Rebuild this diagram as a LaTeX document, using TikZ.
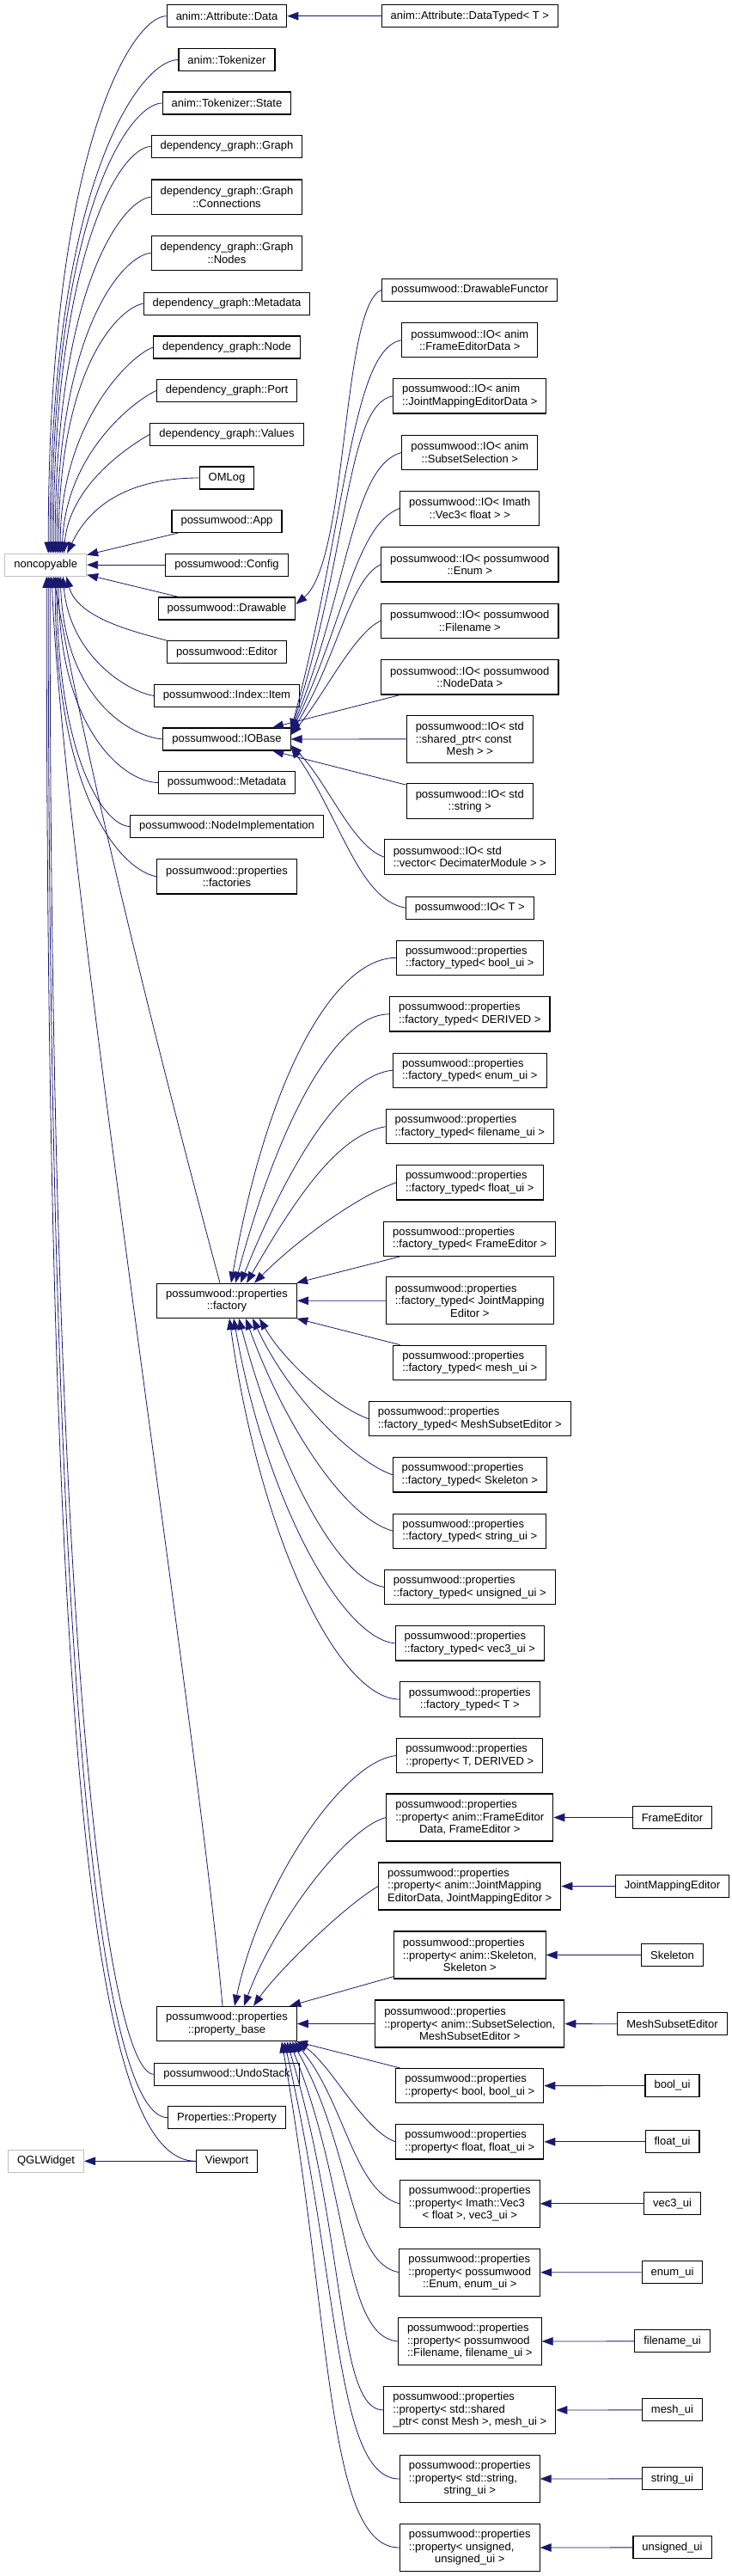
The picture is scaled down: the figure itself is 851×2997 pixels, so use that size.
\documentclass[tikz,border=0pt]{standalone}
\usepackage{fontspec}
\setmainfont{Liberation Sans}
\usetikzlibrary{arrows.meta}
\definecolor{edgeblue}{HTML}{191970}
\definecolor{extgray}{HTML}{BFBFBF}

\begin{document}
\begin{tikzpicture}[x=1pt,y=1pt,
  cls/.style={draw=black, line width=1.1pt, fill=white, align=left,
    inner xsep=10.5pt, inner ysep=0pt, minimum height=26pt,
    font=\fontsize{13}{14.5}\selectfont},
  cls2/.style={cls, minimum height=40.3pt},
  cls3/.style={cls, minimum height=55pt},
  ext/.style={cls, draw=extgray},
  inh/.style={draw=edgeblue, line width=0.8pt, -{Triangle[length=13pt,width=9.5pt]}}]
\useasboundingbox (0,0) rectangle (851,-2997);

% base classes outside the project
\node[ext] (nc) at (53.2,-657.2) {noncopyable};
\node[ext] (qgl) at (53.5,-2514.3) {QGLWidget};

% direct children of noncopyable
\node[cls] (data) at (264,-18.7) {anim::Attribute::Data};
\node[cls] (tok) at (264,-69.5) {anim::Tokenizer};
\node[cls] (tokstate) at (264,-120) {anim::Tokenizer::State};
\node[cls] (graph) at (264,-170.5) {dependency\_graph::Graph};
\node[cls2] (graphconn) at (264,-229.2) {dependency\_graph::Graph\\\hfil ::Connections};
\node[cls2] (graphnodes) at (264,-294.3) {dependency\_graph::Graph\\\hfil ::Nodes};
\node[cls] (graphmeta) at (264,-353.2) {dependency\_graph::Metadata};
\node[cls] (graphnode) at (264,-404) {dependency\_graph::Node};
\node[cls] (graphport) at (264,-454.5) {dependency\_graph::Port};
\node[cls] (graphvalues) at (264,-505.3) {dependency\_graph::Values};
\node[cls] (omlog) at (264,-556) {OMLog};
\node[cls] (app) at (264,-606.3) {possumwood::App};
\node[cls] (config) at (264,-657.2) {possumwood::Config};
\node[cls] (drawable) at (264,-708) {possumwood::Drawable};
\node[cls] (editor) at (264,-758.7) {possumwood::Editor};
\node[cls] (item) at (264,-809.5) {possumwood::Index::Item};
\node[cls] (iobase) at (264,-860) {possumwood::IOBase};
\node[cls] (meta) at (264,-910.5) {possumwood::Metadata};
\node[cls] (nodeimpl) at (264,-961.5) {possumwood::NodeImplementation};
\node[cls2] (factories) at (264,-1019.8) {possumwood::properties\\\hfil ::factories};
\node[cls2] (factory) at (264,-1513.3) {possumwood::properties\\\hfil ::factory};
\node[cls2] (propbase) at (264,-2354.5) {possumwood::properties\\\hfil ::property\_base};
\node[cls] (undo) at (264,-2413.3) {possumwood::UndoStack};
\node[cls] (property) at (264,-2463.7) {Properties::Property};
\node[cls] (viewport) at (264,-2514.3) {Viewport};

% third column
\node[cls] (typed) at (546.8,-18.7) {anim::Attribute::DataTyped< T >};
\node[cls] (functor) at (546.8,-337.2) {possumwood::DrawableFunctor};
\node[cls2] (ioframe) at (546.8,-395.7) {possumwood::IO< anim\\\hfil ::FrameEditorData >};
\node[cls2] (iojoint) at (546.8,-460.8) {possumwood::IO< anim\\\hfil ::JointMappingEditorData >};
\node[cls2] (iosubset) at (546.8,-526.5) {possumwood::IO< anim\\\hfil ::SubsetSelection >};
\node[cls2] (iovec) at (546.8,-591.5) {possumwood::IO< Imath\\\hfil ::Vec3< float > >};
\node[cls2] (ioenum) at (546.8,-656.8) {possumwood::IO< possumwood\\\hfil ::Enum >};
\node[cls2] (iofile) at (546.8,-722.3) {possumwood::IO< possumwood\\\hfil ::Filename >};
\node[cls2] (ionode) at (546.8,-787.8) {possumwood::IO< possumwood\\\hfil ::NodeData >};
\node[cls3] (iomesh) at (546.8,-859.8) {possumwood::IO< std\\::shared\_ptr< const\\\hfil Mesh > >};
\node[cls2] (iostring) at (546.8,-932) {possumwood::IO< std\\\hfil ::string >};
\node[cls2] (iovector) at (546.8,-997) {possumwood::IO< std\\\hfil ::vector< DecimaterModule > >};
\node[cls] (iot) at (546.8,-1056.2) {possumwood::IO< T >};
\node[cls2] (ftbool) at (546.8,-1114.3) {possumwood::properties\\\hfil ::factory\_typed< bool\_ui >};
\node[cls2] (ftderived) at (546.8,-1179.8) {possumwood::properties\\\hfil ::factory\_typed< DERIVED >};
\node[cls2] (ftenum) at (546.8,-1245.2) {possumwood::properties\\\hfil ::factory\_typed< enum\_ui >};
\node[cls2] (ftfile) at (546.8,-1310.7) {possumwood::properties\\\hfil ::factory\_typed< filename\_ui >};
\node[cls2] (ftfloat) at (546.8,-1375.8) {possumwood::properties\\\hfil ::factory\_typed< float\_ui >};
\node[cls2] (ftframe) at (546.8,-1441.2) {possumwood::properties\\\hfil ::factory\_typed< FrameEditor >};
\node[cls3] (ftjoint) at (546.8,-1513.2) {possumwood::properties\\::factory\_typed< JointMapping\\\hfil Editor >};
\node[cls2] (ftmesh) at (546.8,-1585.3) {possumwood::properties\\\hfil ::factory\_typed< mesh\_ui >};
\node[cls2] (ftsubset) at (546.8,-1650.7) {possumwood::properties\\\hfil ::factory\_typed< MeshSubsetEditor >};
\node[cls2] (ftskel) at (546.8,-1715.8) {possumwood::properties\\\hfil ::factory\_typed< Skeleton >};
\node[cls2] (ftstring) at (546.8,-1781.2) {possumwood::properties\\\hfil ::factory\_typed< string\_ui >};
\node[cls2] (ftunsigned) at (546.8,-1846.5) {possumwood::properties\\\hfil ::factory\_typed< unsigned\_ui >};
\node[cls2] (ftvec) at (546.8,-1911.8) {possumwood::properties\\\hfil ::factory\_typed< vec3\_ui >};
\node[cls2] (ftt) at (546.8,-1977) {possumwood::properties\\\hfil ::factory\_typed< T >};
\node[cls2] (pderived) at (546.8,-2042.5) {possumwood::properties\\\hfil ::property< T, DERIVED >};
\node[cls3] (pframe) at (546.8,-2114.5) {possumwood::properties\\::property< anim::FrameEditor\\\hfil Data, FrameEditor >};
\node[cls3] (pjoint) at (546.8,-2194.5) {possumwood::properties\\::property< anim::JointMapping\\\hfil EditorData, JointMappingEditor >};
\node[cls3] (pskel) at (546.8,-2274.5) {possumwood::properties\\::property< anim::Skeleton,\\\hfil Skeleton >};
\node[cls3] (psubset) at (546.8,-2354.5) {possumwood::properties\\::property< anim::SubsetSelection,\\\hfil MeshSubsetEditor >};
\node[cls2] (pbool) at (546.8,-2426.7) {possumwood::properties\\\hfil ::property< bool, bool\_ui >};
\node[cls2] (pfloat) at (546.8,-2491.8) {possumwood::properties\\\hfil ::property< float, float\_ui >};
\node[cls3] (pvec) at (546.8,-2563.8) {possumwood::properties\\::property< Imath::Vec3\\\hfil < float >, vec3\_ui >};
\node[cls3] (penum) at (546.8,-2643.7) {possumwood::properties\\::property< possumwood\\\hfil ::Enum, enum\_ui >};
\node[cls3] (pfile) at (546.8,-2724) {possumwood::properties\\::property< possumwood\\\hfil ::Filename, filename\_ui >};
\node[cls3] (pmesh) at (546.8,-2804) {possumwood::properties\\::property< std::shared\\\hfil \_ptr< const Mesh >, mesh\_ui >};
\node[cls3] (pstring) at (546.8,-2884) {possumwood::properties\\::property< std::string,\\\hfil string\_ui >};
\node[cls3] (punsigned) at (546.8,-2964) {possumwood::properties\\::property< unsigned,\\\hfil unsigned\_ui >};

% leaf classes
\node[cls] (frameed) at (782.5,-2114.5) {FrameEditor};
\node[cls] (jointed) at (782.5,-2194.5) {JointMappingEditor};
\node[cls] (skel) at (782.5,-2274.5) {Skeleton};
\node[cls] (subseted) at (782.5,-2354.7) {MeshSubsetEditor};
\node[cls] (boolui) at (782.5,-2426.5) {bool\_ui};
\node[cls] (floatui) at (782.5,-2491.8) {float\_ui};
\node[cls] (vecui) at (782.5,-2563.8) {vec3\_ui};
\node[cls] (enumui) at (782.5,-2643.8) {enum\_ui};
\node[cls] (fileui) at (782.5,-2723.8) {filename\_ui};
\node[cls] (meshui) at (782.5,-2803.8) {mesh\_ui};
\node[cls] (stringui) at (782.5,-2883.8) {string\_ui};
\node[cls] (unsignedui) at (782.5,-2963.8) {unsigned\_ui};

% into noncopyable, from above
\draw[inh] (data.west) to[out=180,in=90,out distance=40pt,in distance=470pt] ([xshift=3pt]nc.north);
\draw[inh] (tok.west) to[out=180,in=90,out distance=45pt,in distance=430pt] ([xshift=5pt]nc.north);
\draw[inh] (tokstate.west) to[out=180,in=90,out distance=38pt,in distance=395pt] ([xshift=7pt]nc.north);
\draw[inh] (graph.west) to[out=180,in=90,out distance=34pt,in distance=355pt] ([xshift=9pt]nc.north);
\draw[inh] (graphconn.west) to[out=185,in=90,out distance=33pt,in distance=310pt] ([xshift=11pt]nc.north);
\draw[inh] (graphnodes.west) to[out=185,in=90,out distance=32pt,in distance=262pt] ([xshift=13pt]nc.north);
\draw[inh] (graphmeta.west) to[out=190,in=90,out distance=28pt,in distance=218pt] ([xshift=15pt]nc.north);
\draw[inh] (graphnode.west) to[out=200,in=90,out distance=30pt,in distance=150pt] ([xshift=17pt]nc.north);
\draw[inh] (graphport.west) to[out=205,in=88,out distance=30pt,in distance=115pt] ([xshift=19pt]nc.north);
\draw[inh] (graphvalues.west) to[out=210,in=85,out distance=28pt,in distance=80pt] ([xshift=21pt]nc.north);
\draw[inh] (omlog.west) to[out=180,in=65,out distance=70pt,in distance=70pt] ([xshift=25pt]nc.north);
\draw[inh] (app) -- (nc);
\draw[inh] (config) -- (nc);
\draw[inh] (drawable) -- (nc);

% into noncopyable, from below
\draw[inh] (editor.north west) to[out=165,in=-75,out distance=40pt,in distance=50pt] ([xshift=24pt]nc.south);
\draw[inh] (item.west) to[out=170,in=-85,out distance=35pt,in distance=90pt] ([xshift=20pt]nc.south);
\draw[inh] (iobase.west) to[out=175,in=-88,out distance=40pt,in distance=140pt] ([xshift=17pt]nc.south);
\draw[inh] (meta.west) to[out=180,in=-90,out distance=38pt,in distance=180pt] ([xshift=15pt]nc.south);
\draw[inh] (nodeimpl.west) to[out=180,in=-90,out distance=28pt,in distance=215pt] ([xshift=13pt]nc.south);
\draw[inh] (factories.west) to[out=170,in=-90,out distance=40pt,in distance=260pt] ([xshift=11pt]nc.south);
\draw[inh] ([xshift=-8pt]factory.north) .. controls +(-52,193) and +(43,-246) .. ([xshift=9pt]nc.south);
\draw[inh] ([xshift=-5pt]propbase.north) .. controls +(-29,329) and +(12,-330) .. ([xshift=7pt]nc.south);
\draw[inh] (undo.west) .. controls +(-50,0) and +(0,-1300) .. ([xshift=5pt]nc.south);
\draw[inh] (property.west) .. controls +(-70,0) and +(0,-1380) .. ([xshift=3pt]nc.south);
\draw[inh] (viewport.west) .. controls +(-110,0) and +(0,-1450) .. ([xshift=1pt]nc.south);

\draw[inh] (viewport) -- (qgl);
\draw[inh] (typed) -- (data);
\draw[inh] (functor.west) to[out=200,in=40,out distance=50pt,in distance=80pt] ([yshift=5pt]drawable.east);

% IO specialisations
\draw[inh] (ioframe.west) to[out=190,in=75,out distance=60pt,in distance=250pt] ([yshift=11pt]iobase.east);
\draw[inh] (iojoint.west) to[out=190,in=72,out distance=55pt,in distance=220pt] ([yshift=10pt]iobase.east);
\draw[inh] (iosubset.west) to[out=195,in=68,out distance=60pt,in distance=180pt] ([yshift=9pt]iobase.east);
\draw[inh] (iovec.west) to[out=200,in=64,out distance=55pt,in distance=140pt] ([yshift=8pt]iobase.east);
\draw[inh] (ioenum.west) to[out=205,in=58,out distance=40pt,in distance=100pt] ([yshift=7pt]iobase.east);
\draw[inh] (iofile.west) to[out=205,in=50,out distance=35pt,in distance=60pt] ([yshift=5pt]iobase.east);
\draw[inh] (ionode) -- (iobase);
\draw[inh] (iomesh) -- (iobase);
\draw[inh] (iostring) -- (iobase);
\draw[inh] (iovector.west) to[out=160,in=-45,out distance=40pt,in distance=60pt] ([yshift=-7pt]iobase.east);
\draw[inh] (iot.west) to[out=170,in=-55,out distance=55pt,in distance=100pt] ([yshift=-9pt]iobase.east);

% factory_typed
\draw[inh] (ftbool.west) to[out=180,in=80,out distance=70pt,in distance=250pt] ([xshift=5pt]factory.north);
\draw[inh] (ftderived.west) to[out=180,in=75,out distance=60pt,in distance=200pt] ([xshift=10pt]factory.north);
\draw[inh] (ftenum.west) to[out=185,in=68,out distance=55pt,in distance=160pt] ([xshift=16pt]factory.north);
\draw[inh] (ftfile.west) to[out=190,in=60,out distance=55pt,in distance=120pt] ([xshift=23pt]factory.north);
\draw[inh] (ftfloat.west) to[out=200,in=45,out distance=50pt,in distance=70pt] ([xshift=32pt]factory.north);
\draw[inh] (ftframe) -- (factory);
\draw[inh] (ftjoint) -- (factory);
\draw[inh] (ftmesh) -- (factory);
\draw[inh] (ftsubset.west) to[out=160,in=-60,out distance=40pt,in distance=60pt] ([xshift=38pt]factory.south);
\draw[inh] (ftskel.west) to[out=160,in=-65,out distance=50pt,in distance=100pt] ([xshift=30pt]factory.south);
\draw[inh] (ftstring.west) to[out=165,in=-70,out distance=55pt,in distance=140pt] ([xshift=22pt]factory.south);
\draw[inh] (ftunsigned.west) to[out=170,in=-75,out distance=55pt,in distance=180pt] ([xshift=14pt]factory.south);
\draw[inh] (ftvec.west) to[out=175,in=-80,out distance=60pt,in distance=220pt] ([xshift=8pt]factory.south);
\draw[inh] (ftt.west) to[out=180,in=-82,out distance=70pt,in distance=260pt] ([xshift=3pt]factory.south);

% property specialisations
\draw[inh] (pderived.west) to[out=185,in=78,out distance=60pt,in distance=150pt] ([xshift=9pt]propbase.north);
\draw[inh] (pframe.west) to[out=195,in=70,out distance=50pt,in distance=100pt] ([xshift=20pt]propbase.north);
\draw[inh] (pjoint.west) to[out=210,in=55,out distance=45pt,in distance=50pt] ([xshift=31pt]propbase.north);
\draw[inh] (pskel) -- (propbase);
\draw[inh] (psubset) -- (propbase);
\draw[inh] (pbool) -- (propbase);
\draw[inh] (pfloat.west) to[out=160,in=-35,out distance=40pt,in distance=50pt] (propbase.south east);
\draw[inh] (pvec.west) to[out=165,in=-50,out distance=55pt,in distance=90pt] ([xshift=-3pt]propbase.south east);
\draw[inh] (penum.west) to[out=170,in=-60,out distance=60pt,in distance=140pt] ([xshift=-6pt]propbase.south east);
\draw[inh] (pfile.west) to[out=175,in=-68,out distance=65pt,in distance=190pt] ([xshift=-9pt]propbase.south east);
\draw[inh] (pmesh.west) to[out=180,in=-73,out distance=55pt,in distance=240pt] ([xshift=-12pt]propbase.south east);
\draw[inh] (pstring.west) to[out=180,in=-77,out distance=75pt,in distance=290pt] ([xshift=-15pt]propbase.south east);
\draw[inh] (punsigned.west) to[out=180,in=-80,out distance=85pt,in distance=340pt] ([xshift=-18pt]propbase.south east);

% leaves
\draw[inh] (frameed) -- (pframe);
\draw[inh] (jointed) -- (pjoint);
\draw[inh] (skel) -- (pskel);
\draw[inh] (subseted) -- (psubset);
\draw[inh] (boolui) -- (pbool);
\draw[inh] (floatui) -- (pfloat);
\draw[inh] (vecui) -- (pvec);
\draw[inh] (enumui) -- (penum);
\draw[inh] (fileui) -- (pfile);
\draw[inh] (meshui) -- (pmesh);
\draw[inh] (stringui) -- (pstring);
\draw[inh] (unsignedui) -- (punsigned);
\end{tikzpicture}
\end{document}
